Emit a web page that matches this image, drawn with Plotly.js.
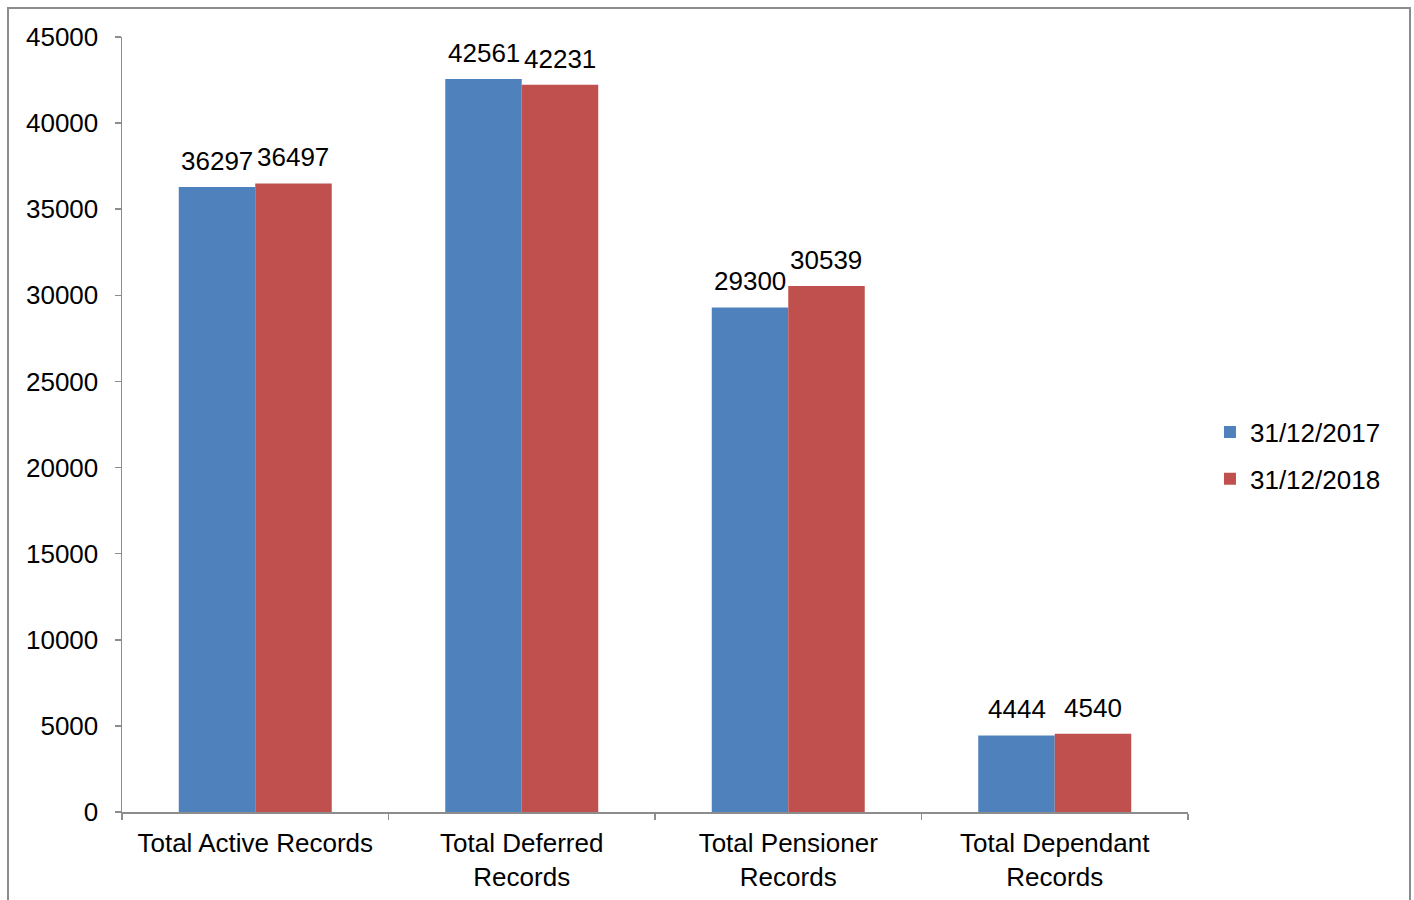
<!DOCTYPE html>
<html>
<head>
<meta charset="utf-8">
<script src="https://cdn.plot.ly/plotly-3.0.1.min.js"></script>
<style>
  html, body { margin: 0; padding: 0; background: #fff; }
  #frame { position: absolute; left: 7px; top: 7px; width: 1404px; height: 1000px; border: 2px solid #8c8c8c; box-sizing: border-box; pointer-events: none; }
  #chart { position: absolute; left: 0; top: 0; width: 1414px; height: 900px; }
</style>
</head>
<body>
<div id="chart"></div>
<div id="frame"></div>
<script>
const categories = ["Total Active Records", "Total Deferred<br>Records", "Total Pensioner<br>Records", "Total Dependant<br>Records"];
const seriesNames = ["31/12/2017", "31/12/2018"];
const values2017 = [36297, 42561, 29300, 4444];
const values2018 = [36497, 42231, 30539, 4540];
const yTicks = [0, 5000, 10000, 15000, 20000, 25000, 30000, 35000, 40000, 45000];

const font = { family: "Liberation Sans, Arial, sans-serif", size: 26, color: "#000" };

const traces = [
  { type: "bar", name: seriesNames[0], legendgroup: "a", x: categories, y: values2017, marker: { color: "#4F81BD" }, hoverinfo: "none" },
  { type: "bar", name: seriesNames[1], legendgroup: "b", x: categories, y: values2018, marker: { color: "#C0504D" }, hoverinfo: "none" }
];

// value labels above each bar
const annotations = [];
[values2017, values2018].forEach((vals, si) => {
  vals.forEach((v, i) => {
    annotations.push({
      x: categories[i], y: v, xref: "x", yref: "y",
      text: String(v), showarrow: false,
      xanchor: "center", yanchor: "bottom",
      xshift: si === 0 ? -38 : 38, yshift: 9,
      font: font
    });
  });
});

const layout = {
  width: 1414, height: 900,
  margin: { l: 122, r: 226, t: 37, b: 88 },
  paper_bgcolor: "#fff", plot_bgcolor: "#fff",
  font: font,
  barmode: "group", bargap: 0.426, bargroupgap: 0,
  showlegend: true,
  legend: { x: 1.0206, xanchor: "left", y: 0.46, yanchor: "middle", font: font, itemwidth: 30, tracegroupgap: 10, bgcolor: "rgba(0,0,0,0)" },
  annotations: annotations,
  xaxis: {
    type: "category", showline: true, linecolor: "#8c8c8c", linewidth: 1.5,
    ticks: "outside", tickson: "boundaries", ticklen: 6, tickcolor: "#8c8c8c", tickwidth: 1.5,
    showgrid: false, tickfont: font, automargin: false, ticklabelstandoff: 7
  },
  yaxis: {
    range: [0, 45000], tickvals: yTicks, ticktext: yTicks.map(String),
    showline: true, linecolor: "#8c8c8c", linewidth: 1.5,
    ticks: "outside", ticklen: 6, tickcolor: "#8c8c8c", tickwidth: 1.5,
    showgrid: false, zeroline: false, tickfont: font, automargin: false, ticklabelstandoff: 11
  }
};

Plotly.newPlot("chart", traces, layout, { staticPlot: true });
</script>
</body>
</html>
